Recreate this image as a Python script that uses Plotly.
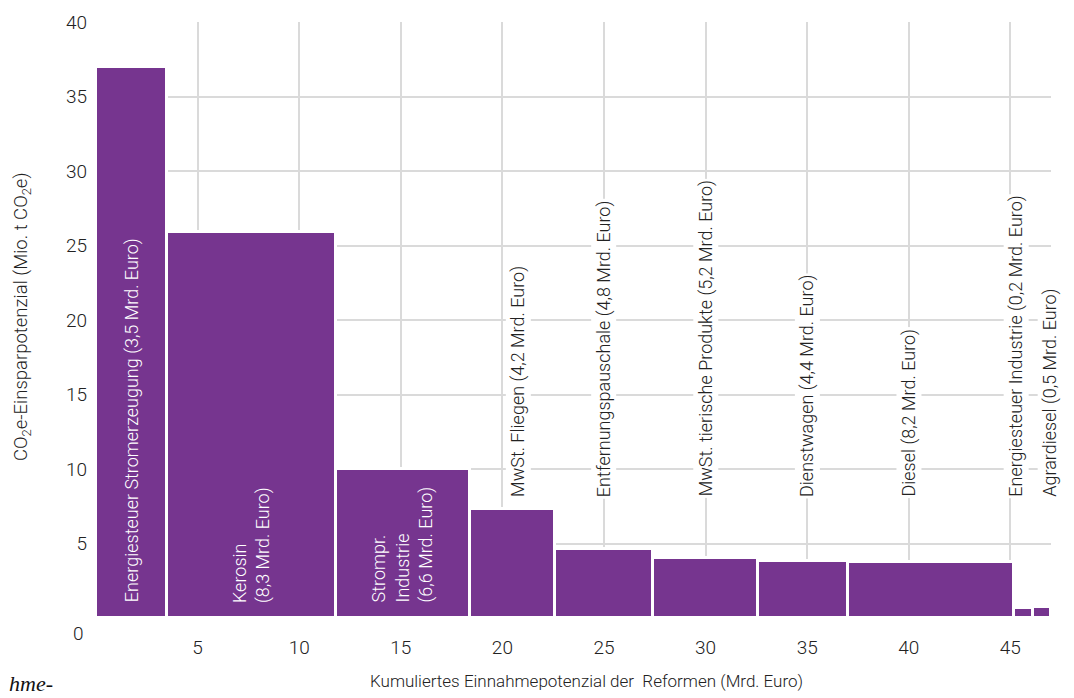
import numpy as np
import plotly.graph_objects as go

# ---------------- data ----------------
names = ["Energiesteuer Stromerzeugung", "Kerosin", "Strompr. Industrie", "MwSt. Fliegen",
         "Entfernungspauschale", "MwSt. tierische Produkte", "Dienstwagen", "Diesel",
         "Energiesteuer Industrie", "Agrardiesel"]
revenue_text = ["3,5", "8,3", "6,6", "4,2", "4,8", "5,2", "4,4", "8,2", "0,2", "0,5"]
# drawn bar widths (Mrd. Euro)
widths = [3.5, 8.3, 6.6, 4.2, 4.8, 5.2, 4.4, 8.2, 0.9, 0.9]
# CO2e savings (Mio. t CO2e)
co2 = [37.0, 25.9, 10.0, 7.3, 4.6, 4.0, 3.85, 3.75, 0.65, 0.75]
label_lines = [
    ["Energiesteuer Stromerzeugung (3,5 Mrd. Euro)"],
    ["Kerosin", "(8,3 Mrd. Euro)"],
    ["Strompr.", "Industrie", "(6,6 Mrd. Euro)"],
    ["MwSt. Fliegen (4,2 Mrd. Euro)"],
    ["Entfernungspauschale (4,8 Mrd. Euro)"],
    ["MwSt. tierische Produkte (5,2 Mrd. Euro)"],
    ["Dienstwagen (4,4 Mrd. Euro)"],
    ["Diesel (8,2 Mrd. Euro)"],
    ["Energiesteuer Industrie (0,2 Mrd. Euro)"],
    ["Agrardiesel (0,5 Mrd. Euro)"],
]
label_inside = [True, True, True, False, False, False, False, False, False, False]
x_ticks = [0, 5, 10, 15, 20, 25, 30, 35, 40, 45]
y_ticks = [5, 10, 15, 20, 25, 30, 35, 40]

# ---------------- layout / styles ----------------
FONT = "Roboto, Liberation Sans, sans-serif"
PURPLE = "#76358F"
GRID = "#dadada"
TXT = "#222222"
outside_label_x = [20.8, 25.0, 30.0, 35.0, 40.0, 45.3, 46.95]

right = np.cumsum(widths)
left = right - np.array(widths)
centers = left + np.array(widths) / 2

fig = go.Figure()
fig.add_trace(go.Bar(
    x=centers, y=co2, width=widths,
    marker=dict(color=PURPLE, line=dict(color="white", width=3)),
    hovertext=names, showlegend=False,
))

# white separators between bars across full height
for b in right[:-1]:
    fig.add_shape(type="line", xref="x", yref="paper", x0=b, x1=b, y0=0, y1=1,
                  line=dict(color="white", width=3), layer="between")

annotations = []
oi = 0
for i, lines in enumerate(label_lines):
    if label_inside[i]:
        annotations.append(dict(
            x=centers[i], y=0.9, xref="x", yref="y", text="<br>".join(lines),
            textangle=-90, xanchor="center", yanchor="bottom", align="left",
            showarrow=False, font=dict(family=FONT, size=18, weight=300, color="white")))
    else:
        annotations.append(dict(
            x=outside_label_x[oi], y=8.0, xref="x", yref="y", text="<br>".join(lines),
            textangle=-90, xanchor="center", yanchor="bottom", align="left",
            showarrow=False, bgcolor="white", borderpad=1,
            font=dict(family=FONT, size=18, weight=300, color=TXT)))
        oi += 1

# y tick "0" (drawn slightly below the baseline)
annotations.append(dict(x=0, y=0, xref="paper", yref="y", text="0", xanchor="right",
                        yanchor="middle", xshift=-10, yshift=-15, showarrow=False,
                        font=dict(family=FONT, size=19, weight=300, color=TXT)))
# axis titles
annotations.append(dict(x=0.514, y=-0.106, xref="paper", yref="paper",
                        text="Kumuliertes Einnahmepotenzial der  Reformen (Mrd. Euro)",
                        xanchor="center", yanchor="middle", showarrow=False,
                        font=dict(family=FONT, size=17, weight=300, color=TXT)))
annotations.append(dict(x=0, y=0.505, xref="paper", yref="paper", xshift=-74,
                        text="CO<sub>2</sub>e-Einsparpotenzial (Mio. t CO<sub>2</sub>e)",
                        textangle=-90, xanchor="center", yanchor="middle", showarrow=False,
                        font=dict(family=FONT, size=18.5, weight=300, color=TXT)))
# fragment of surrounding page text
annotations.append(dict(x=0, y=-0.11, xref="paper", yref="paper", xshift=-41,
                        text="<i>hme-</i>", xanchor="right", yanchor="middle",
                        showarrow=False,
                        font=dict(family="Liberation Serif, DejaVu Serif, serif", size=22, color="#111")))

fig.update_layout(
    width=1066, height=690,
    margin=dict(l=88, r=23, t=14, b=80, autoexpand=False),
    paper_bgcolor="white", plot_bgcolor="white",
    bargap=0,
    annotations=annotations,
    font=dict(family=FONT, size=19, color=TXT),
    xaxis=dict(range=[0, 47], tickvals=x_ticks, automargin=False,
               ticktext=["" if v == 0 else str(v) for v in x_ticks],
               showgrid=True, gridcolor=GRID, gridwidth=1.5, zeroline=False,
               showline=False, ticks="", ticklabelstandoff=16,
               tickfont=dict(family=FONT, size=19, weight=300, color=TXT)),
    yaxis=dict(range=[0, 40], tickvals=y_ticks, showgrid=True, gridcolor=GRID,
               gridwidth=1.5, zeroline=False, showline=False, ticks="", automargin=False,
               ticklabelstandoff=8,
               tickfont=dict(family=FONT, size=19, weight=300, color=TXT)),
)

fig.write_html("out.html")
